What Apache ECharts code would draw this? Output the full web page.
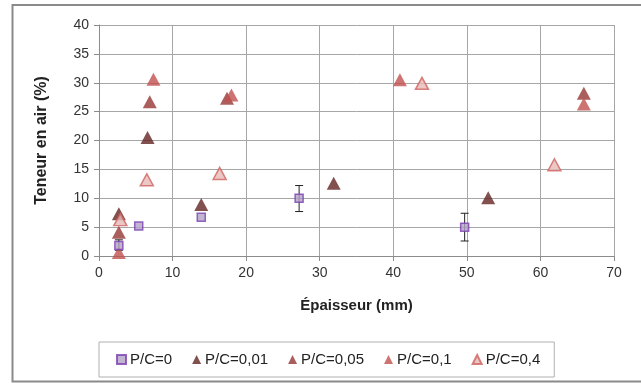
<!DOCTYPE html>
<html><head><meta charset="utf-8">
<script src="https://cdn.jsdelivr.net/npm/echarts@6/dist/echarts.min.js"></script>
<style>html,body{margin:0;padding:0;background:#fff}#c{width:641px;height:383px}</style>
</head><body><div id="c"></div>
<script>
// Data (Épaisseur mm, Teneur en air %)
const seriesNames = ['P/C=0', 'P/C=0,01', 'P/C=0,05', 'P/C=0,1', 'P/C=0,4'];
const pc0_x = [2.7, 5.4, 13.9, 27.2, 49.7];
const pc0_y = [1.8, 5.2, 6.7, 10.0, 5.0];
const pc0_errLow = [1.0, 5.2, 6.7, 7.7, 2.6];
const pc0_errHigh = [2.8, 5.2, 6.7, 12.2, 7.4];
const pc001_x = [2.7, 6.6, 13.9, 31.9, 52.9];
const pc001_y = [7.3, 20.5, 8.9, 12.6, 10.1];
const pc005_x = [2.7, 6.9, 17.4, 65.9];
const pc005_y = [4.1, 26.7, 27.3, 28.2];
const pc01_x = [2.7, 7.4, 18.0, 40.9, 65.9];
const pc01_y = [0.6, 30.6, 27.9, 30.5, 26.3];
const pc04_x = [2.9, 6.5, 16.4, 43.9, 61.9];
const pc04_y = [6.3, 13.2, 14.3, 29.9, 15.8];
const xTicks = {min: 0, max: 70, interval: 10};
const yTicks = {min: 0, max: 40, interval: 5};

const zip = (a, b) => a.map((v, i) => [v, b[i]]);
const font = 'Liberation Sans';
const chart = echarts.init(document.getElementById('c'), null, {renderer: 'canvas'});
const tri = 'triangle';
chart.setOption({
  animation: false,
  backgroundColor: '#fff',
  textStyle: {fontFamily: font},
  graphic: [{type: 'rect', shape: {x: 12.5, y: 5, width: 640, height: 376.5},
    style: {fill: 'none', stroke: '#8a8a8a', lineWidth: 2}, silent: true, z: -1}],
  grid: {left: 99, right: 27, top: 25, bottom: 127},
  legend: {
    data: seriesNames, left: 99, top: 342, height: 38,
    borderColor: '#b0b0b0', borderWidth: 1, padding: [10, 14, 10, 17],
    itemGap: 20, itemWidth: 9, itemHeight: 9,
    textStyle: {fontFamily: font, fontSize: 15, color: '#222', padding: [0, 0, 0, -1]}
  },
  xAxis: {
    type: 'value', min: xTicks.min, max: xTicks.max, interval: xTicks.interval,
    name: 'Épaisseur (mm)', nameLocation: 'middle', nameGap: 42,
    nameTextStyle: {fontFamily: font, fontSize: 15, fontWeight: 'bold', color: '#222'},
    axisLine: {show: true, lineStyle: {color: '#8c8c8c'}},
    axisTick: {show: true, inside: false, length: 5, lineStyle: {color: '#8c8c8c'}},
    axisLabel: {fontFamily: font, fontSize: 14, color: '#333', margin: 10},
    splitLine: {show: true, lineStyle: {color: '#a6a6a6'}}
  },
  yAxis: {
    type: 'value', min: yTicks.min, max: yTicks.max, interval: yTicks.interval,
    name: 'Teneur en air (%)', nameLocation: 'middle', nameGap: 49,
    nameTextStyle: {fontFamily: font, fontSize: 16, fontWeight: 'bold', color: '#222'},
    axisLine: {show: true, lineStyle: {color: '#8c8c8c'}},
    axisTick: {show: true, inside: false, length: 5, lineStyle: {color: '#8c8c8c'}},
    axisLabel: {fontFamily: font, fontSize: 14, color: '#333', margin: 10},
    splitLine: {show: true, lineStyle: {color: '#a6a6a6'}}
  },
  series: [
    {
      type: 'custom', name: 'err', z: 1,
      data: pc0_x.map((x, i) => [x, pc0_errLow[i], pc0_errHigh[i]]),
      renderItem: function (params, api) {
        const lo = api.coord([api.value(0), api.value(1)]);
        const hi = api.coord([api.value(0), api.value(2)]);
        if (Math.abs(hi[1] - lo[1]) < 1) return null;
        const w = 4, st = {stroke: '#222', lineWidth: 1};
        return {type: 'group', children: [
          {type: 'line', shape: {x1: lo[0], y1: lo[1], x2: hi[0], y2: hi[1]}, style: st},
          {type: 'line', shape: {x1: lo[0] - w, y1: lo[1], x2: lo[0] + w, y2: lo[1]}, style: st},
          {type: 'line', shape: {x1: hi[0] - w, y1: hi[1], x2: hi[0] + w, y2: hi[1]}, style: st}
        ]};
      }
    },
    {name: seriesNames[1], type: 'scatter', symbol: tri, symbolSize: [14, 13], z: 3,
      itemStyle: {color: '#632523'}, data: zip(pc001_x, pc001_y)},
    {name: seriesNames[2], type: 'scatter', symbol: tri, symbolSize: [14, 13], z: 3,
      itemStyle: {color: '#953735'}, data: zip(pc005_x, pc005_y)},
    {name: seriesNames[3], type: 'scatter', symbol: tri, symbolSize: [14, 13], z: 3,
      itemStyle: {color: '#C0504D'}, data: zip(pc01_x, pc01_y)},
    {name: seriesNames[4], type: 'scatter', symbol: tri, symbolSize: [13, 12], z: 4,
      itemStyle: {color: '#E6B9B8', borderColor: '#D0615E', borderWidth: 1.5}, data: zip(pc04_x, pc04_y)},
    {name: seriesNames[0], type: 'scatter', symbol: 'rect', symbolSize: 8, z: 5,
      itemStyle: {color: '#B3A2C7', borderColor: '#7B3FB0', borderWidth: 1.5}, data: zip(pc0_x, pc0_y)}
  ]
});
</script></body></html>
